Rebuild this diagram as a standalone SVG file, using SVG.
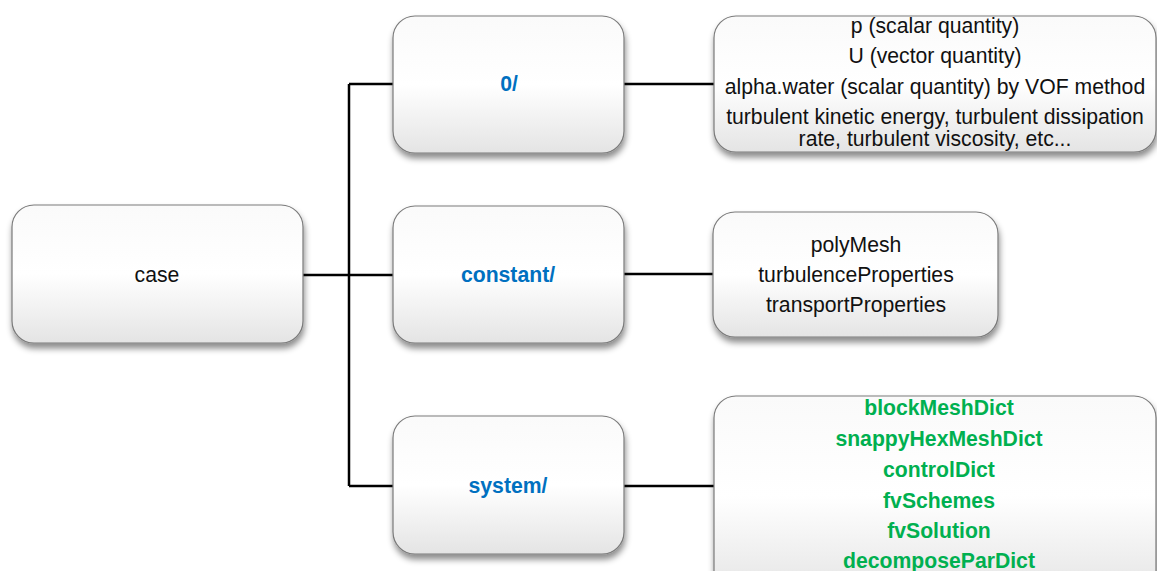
<svg xmlns="http://www.w3.org/2000/svg" width="1157" height="571" viewBox="0 0 1157 571">
<defs>
<linearGradient id="g" x1="0" y1="0" x2="0" y2="1">
<stop offset="0" stop-color="#fafafa"/>
<stop offset="0.5" stop-color="#ffffff"/>
<stop offset="1" stop-color="#e4e4e4"/>
</linearGradient>
<filter id="sh" x="-10%" y="-10%" width="120%" height="130%">
<feDropShadow dx="1" dy="5" stdDeviation="3" flood-color="#000" flood-opacity="0.45"/>
</filter>
</defs>
<style>
.box{fill:url(#g);stroke:#7a7a7a;stroke-width:1.2;filter:url(#sh)}
.t{font-family:"Liberation Sans",Arial,sans-serif;font-size:21.2px;fill:#111;text-anchor:middle}
.b{font-family:"Liberation Sans",Arial,sans-serif;font-size:21.2px;font-weight:bold;fill:#0070C0;text-anchor:middle}
.gr{font-family:"Liberation Sans",Arial,sans-serif;font-size:21.2px;font-weight:bold;fill:#00B050;text-anchor:middle}
.c{stroke:#000;stroke-width:2.5;fill:none}
</style>
<g id="connectors">
<line class="c" x1="303" y1="275" x2="393" y2="275"/>
<line class="c" x1="349" y1="84" x2="349" y2="486"/>
<line class="c" x1="349" y1="84" x2="393" y2="84"/>
<line class="c" x1="349" y1="486" x2="393" y2="486"/>
<line class="c" x1="624" y1="84" x2="714" y2="84"/>
<line class="c" x1="624" y1="274" x2="714" y2="274"/>
<line class="c" x1="624" y1="486" x2="714" y2="486"/>
</g>
<g id="case">
<rect class="box" x="12" y="205" width="291" height="138" rx="22"/>
<text class="t" x="157" y="282">case</text>
</g>
<g id="zero">
<rect class="box" x="393" y="16" width="231" height="137" rx="22"/>
<text class="b" x="509" y="91">0/</text>
</g>
<g id="constant">
<rect class="box" x="393" y="206" width="231" height="137" rx="22"/>
<text class="b" x="508" y="282">constant/</text>
</g>
<g id="system">
<rect class="box" x="393" y="416" width="231" height="138" rx="22"/>
<text class="b" x="508" y="493">system/</text>
</g>
<g id="fields">
<rect class="box" x="714" y="16" width="442" height="136" rx="22"/>
<text class="t" x="935" y="33">p (scalar quantity)</text>
<text class="t" x="935" y="63">U (vector quantity)</text>
<text class="t" x="935" y="94">alpha.water (scalar quantity) by VOF method</text>
<text class="t" x="935" y="124">turbulent kinetic energy, turbulent dissipation</text>
<text class="t" x="935" y="146">rate, turbulent viscosity, etc...</text>
</g>
<g id="constfiles">
<rect class="box" x="713" y="212" width="285" height="125" rx="22"/>
<text class="t" x="856" y="252">polyMesh</text>
<text class="t" x="856" y="282">turbulenceProperties</text>
<text class="t" x="856" y="312">transportProperties</text>
</g>
<g id="sysfiles">
<rect class="box" x="714" y="396" width="442" height="200" rx="22"/>
<text class="gr" x="939" y="415">blockMeshDict</text>
<text class="gr" x="939" y="446">snappyHexMeshDict</text>
<text class="gr" x="939" y="477">controlDict</text>
<text class="gr" x="939" y="508">fvSchemes</text>
<text class="gr" x="939" y="538">fvSolution</text>
<text class="gr" x="939" y="568">decomposeParDict</text>
</g>
</svg>
